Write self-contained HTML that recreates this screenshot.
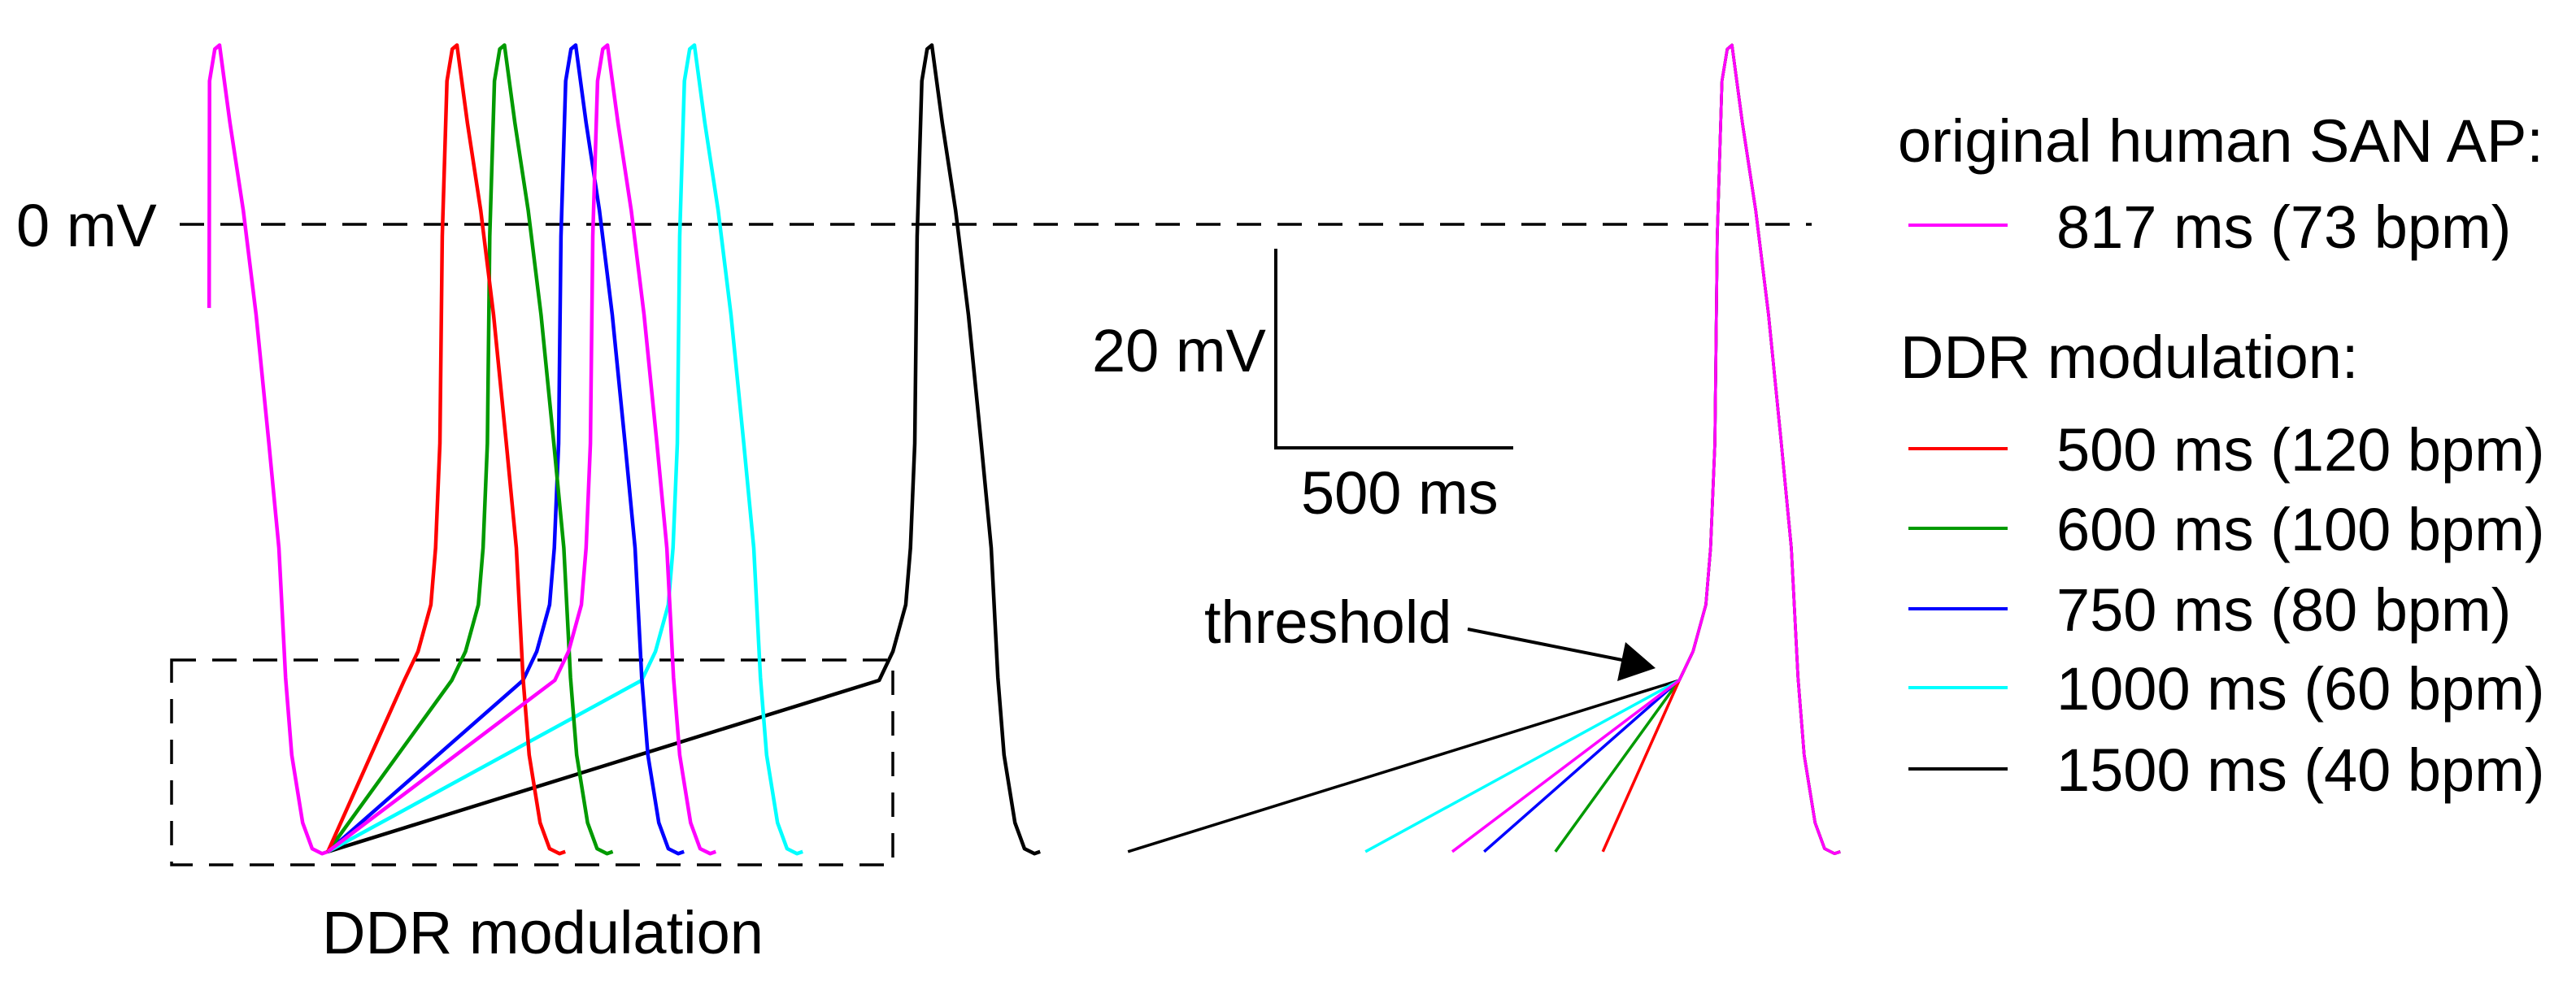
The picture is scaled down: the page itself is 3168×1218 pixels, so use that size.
<!DOCTYPE html>
<html><head><meta charset="utf-8"><style>
html,body{margin:0;padding:0;background:#fff;}
svg{display:block;}
text{font-family:"Liberation Sans",Arial,sans-serif;font-size:74px;fill:#000;}
</style></head><body>
<svg id="chart" width="3168" height="1218" viewBox="0 0 3168 1218" xmlns="http://www.w3.org/2000/svg">
<rect width="3168" height="1218" fill="#fff"/>
<line x1="221" y1="276" x2="2228" y2="276" stroke="#000" stroke-width="3.5" stroke-dasharray="30,20"/>
<text x="20" y="303">0 mV</text>
<rect x="211" y="812" width="887" height="252" fill="none" stroke="#000" stroke-width="3.5" stroke-dasharray="30,20"/>
<text x="396" y="1173">DDR modulation</text>
<g>
<line x1="1569" y1="306" x2="1569" y2="551" stroke="#000" stroke-width="4"/>
<line x1="1567" y1="551" x2="1861" y2="551" stroke="#000" stroke-width="4"/>
</g>
<text x="1343" y="457">20 mV</text>
<text x="1600" y="632">500 ms</text>
<text x="1481" y="791">threshold</text>
<g>
<line x1="1805" y1="774" x2="2005" y2="814" stroke="#000" stroke-width="4"/>
<polygon points="2036,822 1999,790 1989,838" fill="#000"/>
</g>
<g id="traces-left"></g>
<g id="traces-right"></g>
<g>
<text x="2334" y="199">original human SAN AP:</text>
<line x1="2347" y1="277" x2="2469" y2="277" stroke="#ff00ff" stroke-width="4"/>
<text x="2529" y="305">817 ms (73 bpm)</text>
<text x="2337" y="465">DDR modulation:</text>
<line x1="2347" y1="552" x2="2469" y2="552" stroke="#ff0000" stroke-width="4"/>
<text x="2529" y="579">500 ms (120 bpm)</text>
<line x1="2347" y1="650" x2="2469" y2="650" stroke="#009a00" stroke-width="4"/>
<text x="2529" y="677">600 ms (100 bpm)</text>
<line x1="2347" y1="749" x2="2469" y2="749" stroke="#0000ff" stroke-width="4"/>
<text x="2529" y="776">750 ms (80 bpm)</text>
<line x1="2347" y1="846" x2="2469" y2="846" stroke="#00ffff" stroke-width="4"/>
<text x="2529" y="873">1000 ms (60 bpm)</text>
<line x1="2347" y1="946" x2="2469" y2="946" stroke="#000000" stroke-width="4"/>
<text x="2529" y="973">1500 ms (40 bpm)</text>
</g>
</svg>
<script>
// cycle lengths (ms) of each trace, drawing order
const cycleLengths = [1500, 1000, 750, 600, 500, 817];
const seriesNames = ['cl-1500', 'cl-1000', 'cl-750', 'cl-600', 'cl-500', 'cl-817'];
const seriesColors = ['#000000', '#00ffff', '#0000ff', '#009a00', '#ff0000', '#ff00ff'];
// AP template: time relative to peak (ms) and membrane voltage (mV)
const templateTimes = [-111, -82, -55, -45, -36, -31, -21, -10, 0, 22, 50, 77, 104, 125, 139, 152, 175, 195, 216, 228];
const templateVolts = [-45.8, -42.9, -38.2, -32.5, -22, -1.2, 14.4, 17.6, 18.0, 10.2, 1.4, -9.1, -22, -32.5, -45.5, -53.3, -60.1, -62.7, -63.2, -63];
const mdpVolt = -63;
const mdpTime = 228;
const firstStart = [-22, -8.4];

const pxPerMs = 0.584, pxPerMv = 12.25;
function xL(t){ return 270 + t * pxPerMs; }
function xR(dt){ return 2130 + dt * pxPerMs; }
function yV(v){ return 276 - v * pxPerMv; }
const NS = 'http://www.w3.org/2000/svg';
function mkPath(parent, pts, color, w){
  const p = document.createElementNS(NS, 'path');
  p.setAttribute('d', 'M' + pts.map(q => q[0].toFixed(1) + ',' + q[1].toFixed(1)).join('L'));
  p.setAttribute('fill', 'none');
  p.setAttribute('stroke', color);
  p.setAttribute('stroke-width', w);
  p.setAttribute('stroke-linejoin', 'round');
  parent.appendChild(p);
  return p;
}
const gL = document.getElementById('traces-left');
const gR = document.getElementById('traces-right');

// first (original) AP on the left
const first = [[xL(firstStart[0]), yV(firstStart[1])]];
templateTimes.forEach((t, i) => { if (t > firstStart[0]) first.push([xL(t), yV(templateVolts[i])]); });
const fp = mkPath(gL, first, '#ff00ff', 4.5);



cycleLengths.forEach((cl, k) => {
  const peak = cl;
  const ptsL = [[xL(mdpTime), yV(mdpVolt)]];
  templateTimes.forEach((t, i) => ptsL.push([xL(peak + t), yV(templateVolts[i])]));
  const pl = mkPath(gL, ptsL, seriesColors[k], 4.5);
  
  

  const ptsR = [[xR(mdpTime - peak), yV(mdpVolt)]];
  templateTimes.forEach((t, i) => ptsR.push([xR(t), yV(templateVolts[i])]));
  const pr = mkPath(gR, ptsR, seriesColors[k], 3.5);
  
  
});
</script>
</body></html>
